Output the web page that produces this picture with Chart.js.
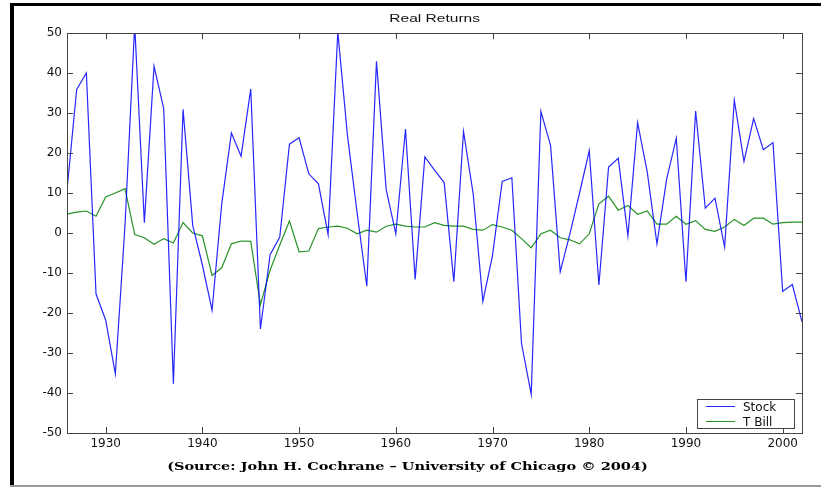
<!DOCTYPE html>
<html>
<head>
<meta charset="utf-8">
<script src="https://cdn.jsdelivr.net/npm/chart.js@4"></script>
<style>
  html, body { margin: 0; padding: 0; background: #fff; }
  #wrap { position: relative; width: 821px; height: 487px; overflow: hidden; }
  #chart { position: absolute; left: 0; top: 0; }
  .frame-left { position: absolute; left: 10px; top: 3px; width: 4px; height: 484px; background: #000; }
  .frame-top { position: absolute; left: 10px; top: 3px; width: 811px; height: 3px; background: #000; }
  .frame-bottom { position: absolute; left: 10px; top: 485px; width: 811px; height: 2px; background: #999; }
  #title { position: absolute; left: 67px; width: 735px; top: 12px; text-align: center;
           font: 11.5px "Liberation Sans", Arial, sans-serif; color: #111;
           transform: scaleX(1.35); transform-origin: 367px 0; }
  #source { position: absolute; left: 40px; width: 735px; top: 459px; text-align: center;
            font: bold 11.5px "DejaVu Serif", serif; color: #000;
            transform: scaleX(1.26); transform-origin: 367.5px 0; }
</style>
</head>
<body>
<div id="wrap">
  <canvas id="chart" width="821" height="487"></canvas>
  <div class="frame-left"></div>
  <div class="frame-top"></div>
  <div class="frame-bottom"></div>
  <div id="title">Real Returns</div>
  <div id="source">(Source: John H. Cochrane &ndash; University of Chicago &copy; 2004)</div>
</div>
<script>
// dados
const years = [];
for (let y = 1926; y <= 2002; y++) years.push(y);

const stock = [
  10.7, 35.9, 40, -15.2, -21.8, -35.2, 2, 52, 2.6, 41.7,
  31.1, -37.7, 30.9, 1.9, -8, -19.3, 7.3, 25, 19.2, 36,
  -24, -5.4, -1, 22.2, 23.8, 14.8, 12.3, -0.4, 50.3, 24.4,
  5, -13.3, 42.9, 10.9, -0.2, 26, -11.6, 19, 15.7, 12.6,
  -12.2, 25.4, 9.8, -17.1, -5.6, 12.9, 13.8, -27.7, -40.3, 30.4,
  21.9, -9.7, -0.2, 10, 20.6, -13, 16.5, 18.7, -0.7, 27.6,
  15.2, -2.7, 13.4, 23.7, -12.2, 30.5, 6.2, 8.7, -3.5, 33.2,
  17.9, 28.6, 20.8, 22.6, -14.6, -12.9, -22.2
];

const tbill = [
  4.7, 5.2, 5.5, 4.2, 9, 10, 11.1, -0.4, -1.2, -2.8,
  -1.4, -2.5, 2.6, 0, -0.7, -10.6, -8.7, -2.7, -2, -2.1,
  -17.9, -9.3, -3, 3, -4.7, -4.5, 1.1, 1.5, 1.7, 1.2,
  -0.2, 0.7, 0.2, 1.7, 2.2, 1.7, 1.5, 1.5, 2.6, 1.9,
  1.7, 1.7, 0.9, 0.7, 2.1, 1.5, 0.7, -1.4, -3.7, -0.2,
  0.7, -1.2, -1.7, -2.7, -0.2, 7.3, 9.2, 5.7, 6.9, 4.7,
  5.5, 2.2, 2.2, 4.2, 2.2, 3.1, 0.9, 0.4, 1.5, 3.4,
  1.9, 3.7, 3.7, 2.2, 2.6, 2.7, 2.7
];

const xTicks = [1930, 1940, 1950, 1960, 1970, 1980, 1990, 2000];
const yTicks = [-50, -40, -30, -20, -10, 0, 10, 20, 30, 40, 50];
const seriesNames = ['Stock', 'T Bill'];
const seriesColors = ['rgba(0,0,255,0.85)', 'rgba(0,128,0,0.85)'];

const tickFont = { family: '"DejaVu Sans", sans-serif', size: 12 };

// ticks para dentro, estilo matlab, nos 4 lados + caixa da legenda
const insideTicks = {
  id: 'insideTicks',
  afterDraw(chart) {
    const { ctx, chartArea: a, scales: { x, y } } = chart;
    ctx.save();
    ctx.strokeStyle = '#444';
    ctx.lineWidth = 1;
    ctx.beginPath();
    xTicks.forEach(v => {
      const px = Math.round(x.getPixelForValue(v)) + 0.5;
      ctx.moveTo(px, a.bottom); ctx.lineTo(px, a.bottom - 6);
      ctx.moveTo(px, a.top); ctx.lineTo(px, a.top + 6);
    });
    yTicks.forEach(v => {
      const py = Math.round(y.getPixelForValue(v)) + 0.5;
      ctx.moveTo(a.left, py); ctx.lineTo(a.left + 6, py);
      ctx.moveTo(a.right, py); ctx.lineTo(a.right - 6, py);
    });
    ctx.stroke();
    ctx.strokeRect(Math.round(a.left) + 0.5, Math.round(a.top) + 0.5,
                   Math.round(a.right - a.left), Math.round(a.bottom - a.top));

    // legenda
    const lx = a.right - 105, ly = a.bottom - 34, lw = 97, lh = 29;
    ctx.fillStyle = '#fff';
    ctx.fillRect(lx, ly, lw, lh);
    ctx.strokeStyle = '#444';
    ctx.strokeRect(lx + 0.5, ly + 0.5, lw, lh);
    ctx.font = '12px "DejaVu Sans", sans-serif';
    ctx.textBaseline = 'middle';
    seriesNames.forEach((n, i) => {
      const yy = ly + 7.5 + i * 15;
      ctx.strokeStyle = seriesColors[i];
      ctx.beginPath(); ctx.moveTo(lx + 9, yy); ctx.lineTo(lx + 38, yy); ctx.stroke();
      ctx.fillStyle = '#111';
      ctx.fillText(n, lx + 46, yy + 1);
    });
    ctx.restore();
  }
};

new Chart(document.getElementById('chart'), {
  type: 'line',
  data: {
    labels: years,
    datasets: [
      { label: seriesNames[0], data: years.map((yr, i) => ({ x: yr, y: stock[i] })),
        borderColor: seriesColors[0], borderWidth: 1.2, pointRadius: 0, tension: 0 },
      { label: seriesNames[1], data: years.map((yr, i) => ({ x: yr, y: tbill[i] })),
        borderColor: seriesColors[1], borderWidth: 1.2, pointRadius: 0, tension: 0 }
    ]
  },
  options: {
    responsive: false,
    animation: false,
    events: [],
    layout: { padding: { left: 0, top: 33, right: 19, bottom: 34 } },
    plugins: { legend: { display: false }, tooltip: { enabled: false } },
    scales: {
      x: {
        type: 'linear', min: 1926, max: 2002,
        afterBuildTicks: s => { s.ticks = xTicks.map(v => ({ value: v })); },
        afterFit: s => { s.height = 20; },
        grid: { display: false, drawTicks: false },
        border: { display: false },
        ticks: { color: '#111', font: tickFont, padding: 4, maxRotation: 0, callback: v => String(v) }
      },
      y: {
        min: -50, max: 50,
        afterBuildTicks: s => { s.ticks = yTicks.map(v => ({ value: v })); },
        afterFit: s => { s.width = 67; },
        grid: { display: false, drawTicks: false },
        border: { display: false },
        ticks: { color: '#111', font: tickFont, padding: 5, callback: v => String(v) }
      }
    }
  },
  plugins: [insideTicks]
});
</script>
</body>
</html>
